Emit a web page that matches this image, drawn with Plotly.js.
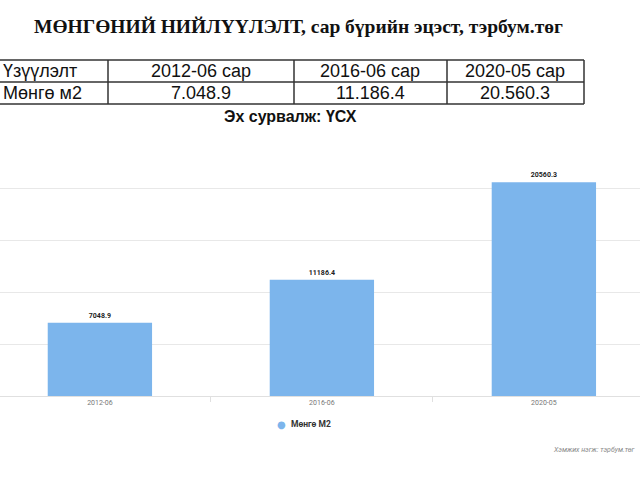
<!DOCTYPE html>
<html>
<head>
<meta charset="utf-8">
<script src="https://cdn.plot.ly/plotly-3.0.1.min.js"></script>
<style>html,body{margin:0;padding:0;background:#fff;}#chart{width:640px;height:480px;}</style>
</head>
<body>
<div id="chart"></div>
<script>
// ---- data ----
const categories = ["2012-06", "2016-06", "2020-05"];
const values = [7048.9, 11186.4, 20560.3];
const seriesName = "Мөнгө М2";
const tableHeader = ["Үзүүлэлт", "2012-06 сар", "2016-06 сар", "2020-05 сар"];
const tableRow = ["Мөнгө м2", "7.048.9", "11.186.4", "20.560.3"];
const titleText = "МӨНГӨНИЙ НИЙЛҮҮЛЭЛТ, сар бүрийн эцэст, тэрбум.төг";
const sourceText = "Эх сурвалж: ҮСХ";
const unitText = "Хэмжих нэгж: тэрбум.төг";

// ---- geometry helpers (pixel -> paper) ----
const W = 640, H = 480, mT = 160, mB = 84;
const plotH = H - mT - mB;
const px = x => x / W;
const py = y => (H - mB - y) / plotH;

const shapes = [];
const lineStyle = {color: "#333", width: 1.5};
[60, 82, 104].forEach(y => shapes.push({type: "line", xref: "paper", yref: "paper",
  x0: px(-20), x1: px(584), y0: py(y), y1: py(y), line: lineStyle}));
[108, 294, 447, 584].forEach(x => shapes.push({type: "line", xref: "paper", yref: "paper",
  x0: px(x), x1: px(x), y0: py(60), y1: py(104), line: lineStyle}));

const tableFont = {family: "Liberation Sans, Arial, sans-serif", size: 18, color: "#111"};
const colCenters = [null, 201, 370, 515];
const annotations = [];
[tableHeader, tableRow].forEach((row, ri) => {
  const yy = ri === 0 ? 71 : 93;
  row.forEach((t, ci) => {
    if (ci === 0) {
      annotations.push({text: t, xref: "paper", yref: "paper", x: px(1), y: py(yy),
        xanchor: "left", yanchor: "middle", showarrow: false, font: tableFont});
    } else {
      annotations.push({text: t, xref: "paper", yref: "paper", x: px(colCenters[ci]), y: py(yy),
        xanchor: "center", yanchor: "middle", showarrow: false, font: tableFont});
    }
  });
});
annotations.push({text: "<b>" + titleText + "</b>", xref: "paper", yref: "paper",
  x: px(298), y: py(26), xanchor: "center", yanchor: "middle", showarrow: false,
  font: {family: "Liberation Serif, Times New Roman, serif", size: 19.5, color: "#111"}});
annotations.push({text: "<b>" + sourceText + "</b>", xref: "paper", yref: "paper",
  x: px(290), y: py(116), xanchor: "center", yanchor: "middle", showarrow: false,
  font: {family: "Liberation Sans, Arial, sans-serif", size: 16, color: "#111"}});
annotations.push({text: "●", xref: "paper", yref: "paper", x: px(281), y: py(424),
  xanchor: "center", yanchor: "middle", showarrow: false,
  font: {family: "DejaVu Sans, sans-serif", size: 10, color: "#7cb5ec"}});
annotations.push({text: "<b>" + seriesName + "</b>",
  xref: "paper", yref: "paper", x: px(289), y: py(424), xanchor: "left", yanchor: "middle",
  showarrow: false, font: {family: "Roboto, sans-serif", size: 8.5, color: "#333"}});
annotations.push({text: "<i>" + unitText + "</i>", xref: "paper", yref: "paper",
  x: px(638), y: py(450), xanchor: "right", yanchor: "middle", showarrow: false,
  font: {family: "Roboto, sans-serif", size: 7, color: "#888"}});

const trace = {
  type: "bar", x: categories, y: values, name: seriesName,
  marker: {color: "#7cb5ec"}, width: 0.47,
  text: values.map(v => "<b>" + v.toFixed(1) + "</b>"),
  textposition: "outside", cliponaxis: false,
  textfont: {family: "Roboto, sans-serif", size: 7, color: "#222"},
  hoverinfo: "x+y"
};

const layout = {
  width: W, height: H,
  margin: {l: 0, r: 0, t: mT, b: mB, pad: 0},
  paper_bgcolor: "#fff", plot_bgcolor: "#fff",
  showlegend: false,
  xaxis: {type: "category", range: [-0.45, 2.433], showgrid: false,
    ticks: "outside", tickson: "boundaries", ticklen: 5, tickcolor: "#e0e0e0",
    showline: true, linecolor: "#e0e0e0", linewidth: 1,
    tickfont: {family: "Roboto, sans-serif", size: 7, color: "#777"}, fixedrange: true},
  yaxis: {range: [0, 22700], dtick: 5000, showticklabels: false, gridcolor: "#e8e8e8",
    zeroline: false, fixedrange: true},
  shapes: shapes,
  annotations: annotations,
  bargap: 0.5
};

Plotly.newPlot("chart", [trace], layout, {displayModeBar: false, staticPlot: true});
</script>
</body>
</html>
